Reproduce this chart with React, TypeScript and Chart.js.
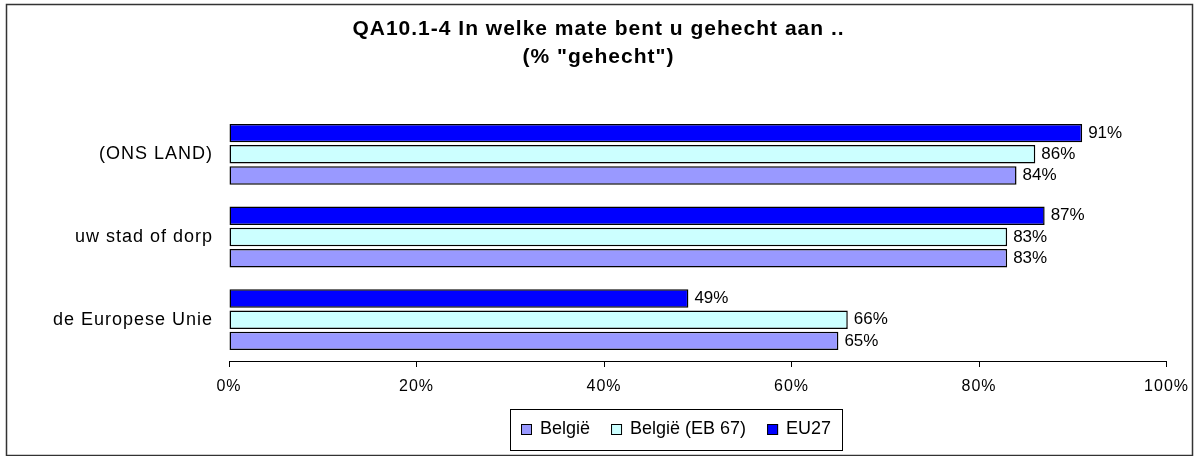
import React, { useEffect, useRef } from 'react';
import { Chart, registerables } from 'chart.js';

Chart.register(...registerables);

const categories = ['(ONS LAND)', 'uw stad of dorp', 'de Europese Unie'];
const belgie = [84, 83, 65];
const belgieEB67 = [86, 83, 66];
const eu27 = [91, 87, 49];
const seriesLabels = ['België', 'België (EB 67)', 'EU27'];
const titleLines = ['QA10.1-4 In welke mate bent u gehecht aan ..', '(% "gehecht")'];
const xMin = 0;
const xMax = 100;
const xStep = 20;

const FONT = '"Liberation Sans", Arial, Helvetica, sans-serif';

const spacingPlugin = {
  id: 'spacing',
  beforeDraw(chart: any) {
    chart.ctx.letterSpacing = '1px';
  },
  beforeDatasetsDraw(chart: any) {
    chart.ctx.letterSpacing = '0px';
  },
};

const valueLabelPlugin = {
  id: 'valueLabels',
  afterDatasetsDraw(chart: any) {
    const ctx = chart.ctx;
    ctx.save();
    ctx.letterSpacing = '0px';
    ctx.font = `17px ${FONT}`;
    ctx.fillStyle = '#000';
    ctx.textAlign = 'left';
    ctx.textBaseline = 'middle';
    chart.data.datasets.forEach((ds: any, di: number) => {
      const meta = chart.getDatasetMeta(di);
      meta.data.forEach((bar: any, i: number) => {
        ctx.fillText(ds.data[i] + '%', bar.x + 6, bar.y);
      });
    });
    ctx.restore();
  },
};

const legendFramePlugin = {
  id: 'boxLegendFrame',
  afterDraw(chart: any) {
    const ctx = chart.ctx;
    ctx.save();
    ctx.letterSpacing = '0px';
    // outer frame
    ctx.strokeStyle = '#333';
    ctx.lineWidth = 1.5;
    ctx.strokeRect(6.5, 4.5, 1186, 451);

    // legend
    const items = [...chart.data.datasets].reverse();
    ctx.font = `18px ${FONT}`;
    const sq = 11;
    const gapText = 8;
    const gapItem = 21;
    const padX = 11;
    const widths = items.map((d: any) => ctx.measureText(d.label).width);
    const total =
      padX * 2 +
      widths.reduce((a: number, w: number) => a + sq + gapText + w, 0) +
      gapItem * (items.length - 1);
    const cx = 676;
    const top = 409;
    const h = 41;
    const left = Math.round(cx - total / 2);
    ctx.strokeStyle = '#000';
    ctx.lineWidth = 1;
    ctx.strokeRect(left + 0.5, top + 0.5, Math.round(total), h);
    let x = left + padX;
    const cy = top + h / 2;
    items.forEach((d: any, i: number) => {
      ctx.fillStyle = d.backgroundColor;
      ctx.fillRect(x, Math.round(cy - sq / 2), sq, sq);
      ctx.strokeStyle = '#000';
      ctx.lineWidth = 1;
      ctx.strokeRect(x + 0.5, Math.round(cy - sq / 2) + 0.5, sq - 1, sq - 1);
      x += sq + gapText;
      ctx.fillStyle = '#000';
      ctx.textAlign = 'left';
      ctx.textBaseline = 'middle';
      ctx.fillText(d.label, x, cy);
      x += widths[i] + gapItem;
    });
    ctx.restore();
  },
};

export default function App() {
  const ref = useRef<HTMLCanvasElement | null>(null);

  useEffect(() => {
    if (!ref.current) return;
    const chart = new Chart(ref.current, {
      type: 'bar',
      data: {
        labels: categories,
        datasets: [
          {
            label: seriesLabels[2],
            data: eu27,
            backgroundColor: '#0000FF',
            borderColor: '#000',
            borderWidth: 1.5,
            borderSkipped: false,
          },
          {
            label: seriesLabels[1],
            data: belgieEB67,
            backgroundColor: '#CCFFFF',
            borderColor: '#000',
            borderWidth: 1.5,
            borderSkipped: false,
          },
          {
            label: seriesLabels[0],
            data: belgie,
            backgroundColor: '#9999FF',
            borderColor: '#000',
            borderWidth: 1.5,
            borderSkipped: false,
          },
        ],
      },
      options: {
        indexAxis: 'y',
        responsive: false,
        animation: false,
        devicePixelRatio: 1,
        datasets: {
          bar: {
            categoryPercentage: 0.77,
            barPercentage: 0.87,
          },
        },
        layout: {
          padding: { top: 0, left: 0, right: 0, bottom: 55 },
        },
        plugins: {
          legend: { display: false },
          tooltip: { enabled: false },
          title: {
            display: true,
            text: titleLines,
            color: '#000',
            font: { family: FONT, size: 21, weight: 'bold', lineHeight: 1.35 },
            padding: { top: 14.8, bottom: 41.5 },
          },
        },
        scales: {
          x: {
            type: 'linear',
            min: xMin,
            max: xMax,
            afterFit(scale: any) {
              scale.height = 40;
            },
            ticks: {
              stepSize: xStep,
              color: '#000',
              padding: 10,
              maxRotation: 0,
              font: { family: FONT, size: 16 },
              callback: (v: any) => v + '%',
            },
            grid: {
              display: true,
              drawOnChartArea: false,
              drawTicks: true,
              tickLength: 6,
              color: '#000',
              lineWidth: 1,
            },
            border: { display: true, color: '#000', width: 1 },
          },
          y: {
            type: 'category',
            afterFit(scale: any) {
              scale.width = 229;
            },
            ticks: {
              color: '#000',
              padding: 16,
              font: { family: FONT, size: 18 },
            },
            grid: { display: false, drawTicks: false },
            border: { display: false },
          },
          yRight: {
            type: 'category',
            position: 'right',
            afterFit(scale: any) {
              scale.width = 23;
            },
            ticks: { display: false },
            grid: { display: false, drawTicks: false },
            border: { display: false },
          },
        },
      },
      plugins: [spacingPlugin, valueLabelPlugin, legendFramePlugin],
    } as any);
    return () => chart.destroy();
  }, []);

  return (
    <div style={{ position: 'absolute', left: 0, top: 0, width: 1197, height: 456, background: '#fff' }}>
      <canvas ref={ref} width={1197} height={456} />
    </div>
  );
}
